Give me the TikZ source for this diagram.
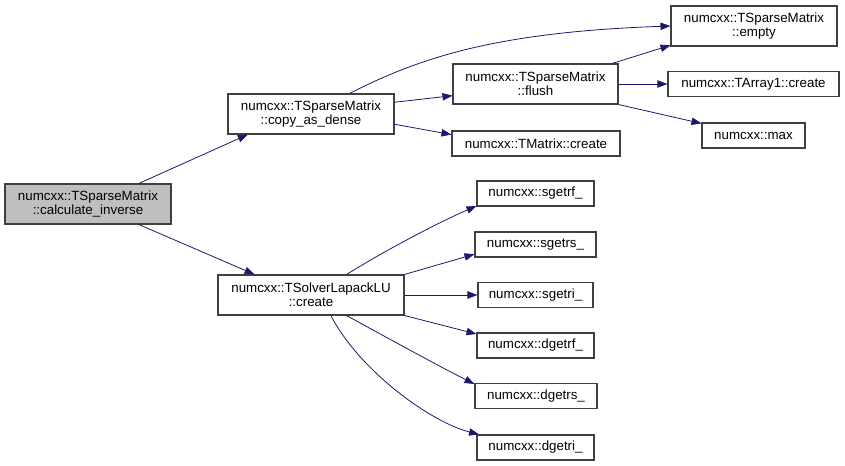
\documentclass[tikz,border=0pt]{standalone}
\usepackage{fontspec}
\setmainfont{Liberation Sans}
\usetikzlibrary{arrows.meta}
\definecolor{edgeblue}{HTML}{191970}
\definecolor{boxline}{HTML}{404040}
\definecolor{rootgray}{HTML}{BFBFBF}
\tikzset{
  fn/.style = {draw=boxline, line width=0.8pt, fill=white, align=center, inner sep=0pt, font=\fontsize{10}{10.5}\selectfont, minimum width=#1},
  fn_one/.style = {fn=#1, minimum height=18.75pt},
  fn_two/.style = {fn=#1, minimum height=30pt},
  fn_root/.style = {fn_two=#1, fill=rootgray},
  call/.style = {draw=edgeblue, line width=0.6pt, -{Triangle[length=7.5pt,width=5.5pt]}}
}

\begin{document}
\begin{tikzpicture}[x=0.75pt, y=-0.75pt]
\useasboundingbox (0,0) rectangle (845,466);
\node [fn_root=124.5pt] (inv) at (88,204) {numcxx::TSparseMatrix\\::calculate\_inverse};
\node [fn_two=124.5pt] (dense) at (311,114) {numcxx::TSparseMatrix\\::copy\_as\_dense};
\node [fn_two=123.75pt] (flush) at (535.5,84) {numcxx::TSparseMatrix\\::flush};
\node [fn_two=124.5pt] (empty) at (754,26) {numcxx::TSparseMatrix\\::empty};
\node [fn_one=128.25pt] (arr1) at (753.5,84) {numcxx::TArray1::create};
\node [fn_one=77.25pt] (max) at (753.5,135.5) {numcxx::max};
\node [fn_one=126pt] (tmat) at (536,143.5) {numcxx::TMatrix::create};
\node [fn_two=139.5pt] (lu) at (311,295) {numcxx::TSolverLapackLU\\::create};
\node [fn_one=87.75pt] (sgetrf) at (535.5,193.5) {numcxx::sgetrf\_};
\node [fn_one=90.75pt] (sgetrs) at (535.5,244.5) {numcxx::sgetrs\_};
\node [fn_one=86.25pt] (sgetri) at (535.5,295) {numcxx::sgetri\_};
\node [fn_one=87.75pt] (dgetrf) at (535.5,345.5) {numcxx::dgetrf\_};
\node [fn_one=91.5pt] (dgetrs) at (536,396) {numcxx::dgetrs\_};
\node [fn_one=87.75pt] (dgetri) at (535.5,447.5) {numcxx::dgetri\_};

\draw [call] (inv.22) -- (dense.198);
\draw [call] (inv.338) -- (lu.160);
\draw [call] (dense.28) .. controls +(72,-37) and +(-171,6) .. (empty.west);
\draw [call] (dense.8) -- (flush.188);
\draw [call] (dense.353) -- (tmat.174);
\draw [call] (flush.15) -- (empty.193);
\draw [call] (flush.east) -- (arr1.west);
\draw [call] (flush.south east) -- (max.167);
\draw [call] (lu.30) .. controls +(40,-25) and +(-35,15) .. (sgetrf.192);
\draw [call] (lu.north east) -- (sgetrs.189);
\draw [call] (lu.east) -- (sgetri.west);
\draw [call] (lu.south east) -- (dgetrf.169);
\draw [call] (lu.330) .. controls +(40,22) and +(-30,-15) .. (dgetrs.169);
\draw [call] (lu.314) .. controls +(30,57) and +(-47,-12) .. (dgetri.167);
\end{tikzpicture}
\end{document}
